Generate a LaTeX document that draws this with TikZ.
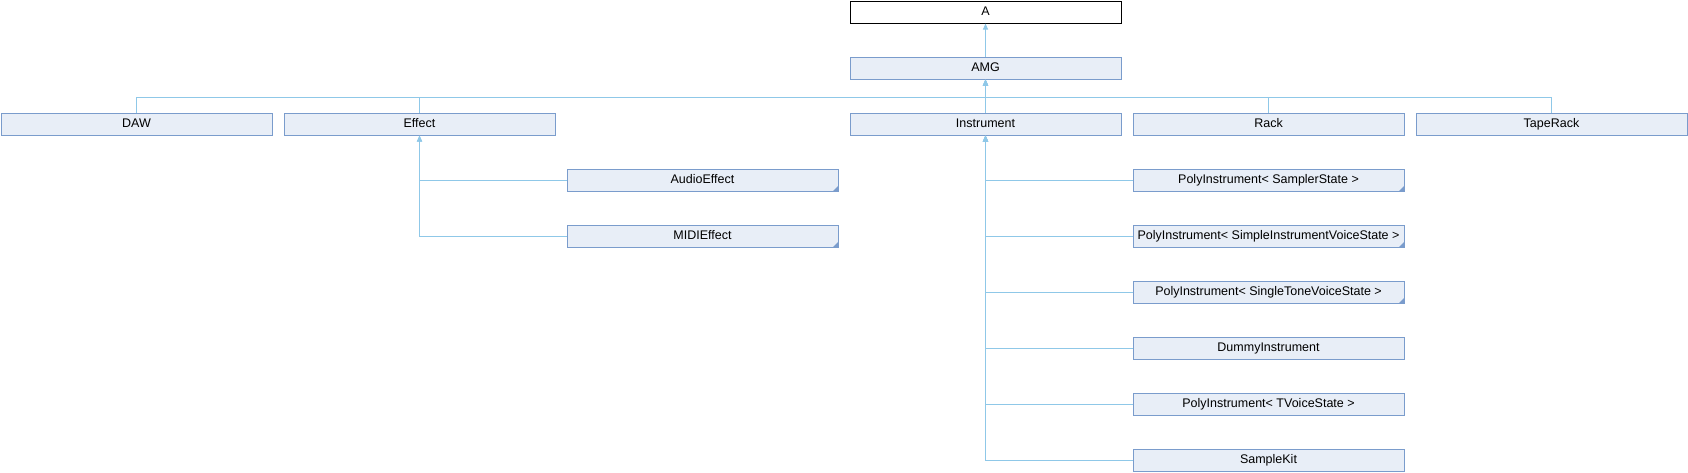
\documentclass[tikz,border=0pt]{standalone}
\usepackage{fontspec}
\setmainfont{Liberation Sans}
\usetikzlibrary{arrows.meta}
\definecolor{boxfill}{RGB}{232,238,247}
\definecolor{boxline}{RGB}{122,156,204}
\definecolor{edgecol}{RGB}{143,200,232}
\tikzset{
  cls/.style={draw=boxline, fill=boxfill, line width=1pt, rectangle, inner sep=0pt,
    minimum width=271pt, minimum height=22pt, anchor=north west,
    font=\fontsize{12.5}{14}\selectfont, text height=9pt, text depth=2.5pt},
  topcls/.style={cls, draw=black, fill=white},
  tmpl/.style={path picture={\fill[boxline] (path picture bounding box.south east) -- ++(-5pt,0) -- ++(5pt,5pt) -- cycle;}},
  edge/.style={draw=edgecol, line width=1pt, -{Triangle[width=5pt,length=6pt]}},
}
\begin{document}
\begin{tikzpicture}[x=1pt,y=1pt]
\useasboundingbox (0,0) rectangle (1688,-472);
\node[topcls] (A) at (849.5,-0.5) {A};
\node[cls] (AMG) at (849.5,-56.5) {AMG};
\node[cls] (DAW) at (0.5,-112.5) {DAW};
\node[cls] (Effect) at (283.5,-112.5) {Effect};
\node[cls] (Instrument) at (849.5,-112.5) {Instrument};
\node[cls] (Rack) at (1132.5,-112.5) {Rack};
\node[cls] (TapeRack) at (1415.5,-112.5) {TapeRack};
\node[cls,tmpl] (AudioEffect) at (566.5,-168.5) {AudioEffect};
\node[cls,tmpl] (MIDIEffect) at (566.5,-224.5) {MIDIEffect};
\node[cls,tmpl] (P1) at (1132.5,-168.5) {PolyInstrument< SamplerState >};
\node[cls,tmpl] (P2) at (1132.5,-224.5) {PolyInstrument< SimpleInstrumentVoiceState >};
\node[cls,tmpl] (P3) at (1132.5,-280.5) {PolyInstrument< SingleToneVoiceState >};
\node[cls] (Dummy) at (1132.5,-336.5) {DummyInstrument};
\node[cls] (P4) at (1132.5,-392.5) {PolyInstrument< TVoiceState >};
\node[cls] (SampleKit) at (1132.5,-448.5) {SampleKit};
% edges
\draw[edge] (AMG.north) -- (A.south);
\foreach \c in {DAW,Effect,Instrument,Rack,TapeRack}{
  \draw[edge] (\c.north) -- ++(0,15.5) -| (AMG.south);
}
\foreach \c in {AudioEffect,MIDIEffect}{
  \draw[edge] (\c.west) -| (Effect.south);
}
\foreach \c in {P1,P2,P3,Dummy,P4,SampleKit}{
  \draw[edge] (\c.west) -| (Instrument.south);
}
\end{tikzpicture}
\end{document}
